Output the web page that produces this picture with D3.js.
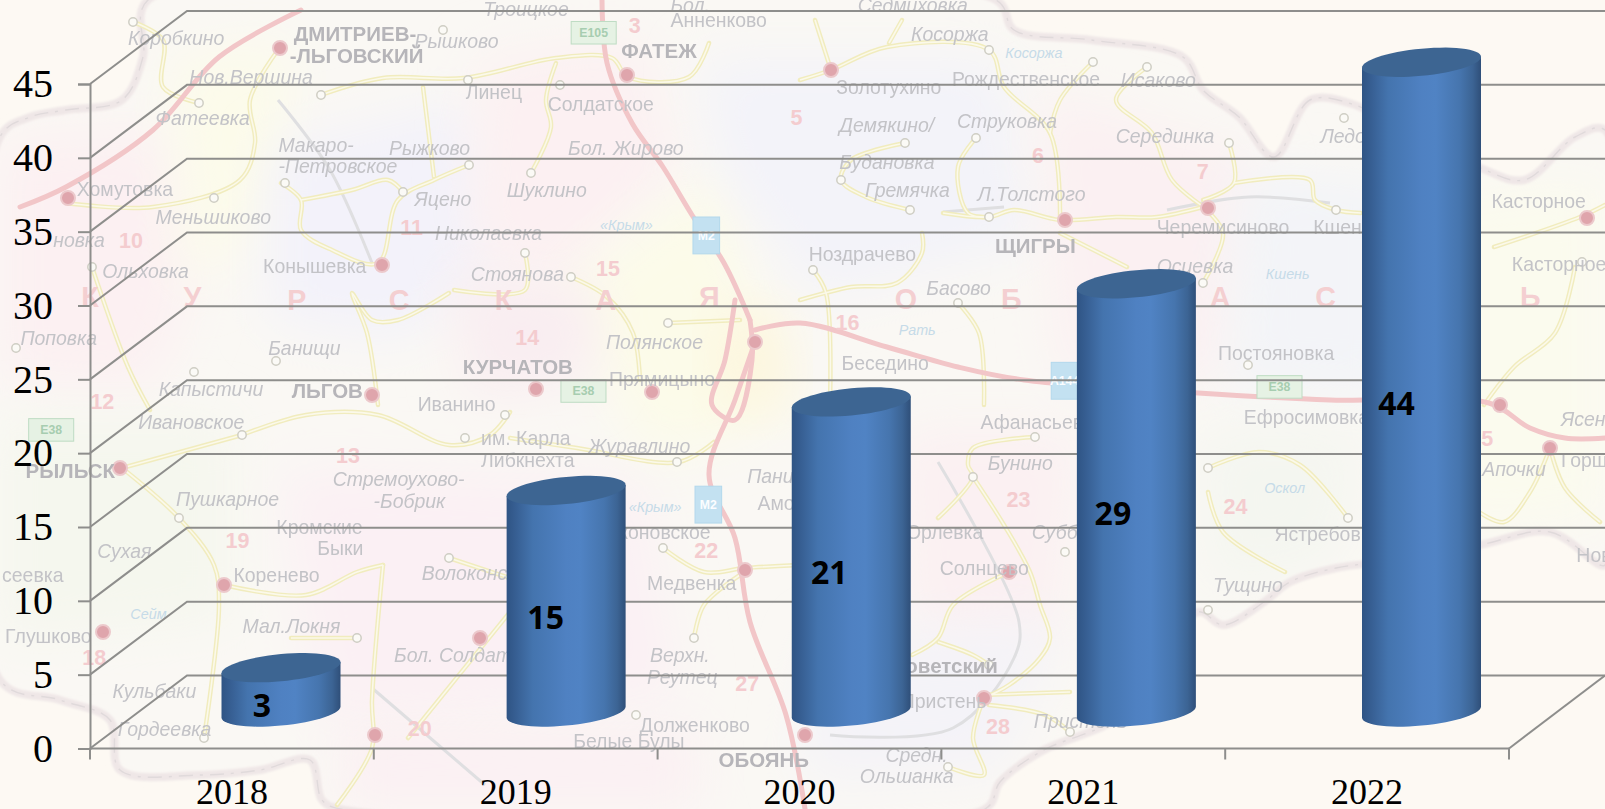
<!DOCTYPE html>
<html><head><meta charset="utf-8">
<script src="https://cdn.jsdelivr.net/npm/d3@7/dist/d3.min.js"></script>
<style>html,body{margin:0;padding:0;background:#fdf9f3;overflow:hidden}svg{display:block}</style>
</head><body><svg id="c" width="1605" height="809"></svg>
<script>
// ---------- chart data ----------
const categories = ["2018","2019","2020","2021","2022"];
const values = [3,15,21,29,44];
const yTicks = [0,5,10,15,20,25,30,35,40,45];

// ---------- decorative background map (pale road atlas of Kursk oblast) ----------
const regionOutline = [[148,0],[143,57],[122,100],[66,110],[30,117],[0,137],[0,680],[60,700],[110,720],[120,770],[200,775],[260,770],[310,760],[322,800],[340,809],[985,809],[1000,782],[1040,752],[1127,712],[1198,612],[1223,625],[1264,602],[1290,582],[1336,568],[1400,560],[1480,545],[1550,532],[1600,565],[1605,565],[1605,130],[1575,137],[1524,180],[1478,167],[1400,130],[1355,105],[1310,100],[1274,157],[1239,117],[1203,90],[1183,57],[1091,40],[1014,30],[996,0]];
const tintPatches = [
 ["#fcf0f2",[[0,140],[170,130],[190,300],[150,390],[0,380]]],
 ["#fcfbea",[[170,60],[290,40],[280,200],[190,290]]],
 ["#f3f2fa",[[270,150],[470,100],[500,270],[400,340],[270,320]]],
 ["#fcf0f2",[[480,60],[640,40],[680,170],[560,290],[470,250]]],
 ["#fcfbe9",[[560,290],[720,170],[780,420],[650,460]]],
 ["#f9edf1",[[450,270],[600,290],[590,380],[470,400]]],
 ["#f3f3f9",[[700,60],[1000,60],[1040,240],[820,300],[720,170]]],
 ["#fdf6dd",[[715,310],[780,310],[790,410],[720,410]]],
 ["#fbf0f2",[[1040,90],[1260,160],[1220,380],[1060,380]]],
 ["#f3f4f8",[[1240,170],[1400,180],[1400,400],[1230,390]]],
 ["#f5f7ee",[[0,420],[230,420],[230,620],[0,640]]],
 ["#fbf0f4",[[280,470],[640,480],[680,700],[320,720]]],
 ["#fbf0f2",[[900,430],[1080,430],[1060,640],[910,640]]],
 ["#f4f6f0",[[1200,430],[1360,430],[1340,560],[1210,590]]],
 ["#f4f3f8",[[820,640],[1060,620],[1000,770],[800,780]]],
 ["#fbfbee",[[1420,200],[1605,180],[1605,520],[1440,530]]],
 ["#fbf0f3",[[340,720],[700,730],[700,809],[340,809]]]
];
const yellowRoads = [
 [[321,95],[383,78],[464,78],[556,58],[612,58],[628,77],[689,77],[709,43]],
 [[556,63],[546,100],[551,127],[531,173]],
 [[133,22],[163,40],[163,87],[199,103]],
 [[281,183],[301,200],[301,230],[332,250],[378,263],[398,200],[434,180],[469,165]],
 [[301,200],[352,190],[388,180],[403,192]],
 [[423,87],[434,177]],
 [[66,203],[153,207],[240,180],[255,143],[250,100],[278,50]],
 [[92,267],[128,367],[150,410]],
 [[449,293],[398,320],[372,320],[352,293],[367,333],[378,405]],
 [[454,290],[525,290],[525,253]],
 [[571,277],[607,297],[633,333],[640,380]],
 [[668,323],[740,320]],
 [[122,468],[179,518],[214,565],[219,605],[204,738]],
 [[224,585],[306,595],[357,572],[383,565]],
 [[242,435],[122,468]],
 [[242,435],[306,415],[378,415],[449,445],[490,435],[510,412]],
 [[510,438],[577,448],[679,462],[714,442]],
 [[449,558],[510,578]],
 [[663,548],[704,572],[745,568],[800,565]],
 [[694,638],[704,605],[740,575]],
 [[291,638],[357,638]],
 [[408,738],[510,612]],
 [[337,805],[372,748],[372,700],[383,565]],
 [[800,80],[831,70],[887,47],[989,50],[1004,87],[1050,133],[1060,217]],
 [[831,70],[815,20]],
 [[889,43],[902,20]],
 [[1093,62],[1060,100],[1050,133]],
 [[1147,67],[1116,100],[1152,133],[1172,180],[1208,210]],
 [[1229,143],[1234,183],[1203,200]],
 [[1234,183],[1310,180],[1315,200],[1336,210],[1361,213]],
 [[905,143],[851,160],[841,180],[866,197],[910,210]],
 [[976,138],[958,167],[968,213],[989,217]],
 [[943,213],[989,217],[1014,210],[1060,220],[1116,217],[1157,217],[1203,207]],
 [[1060,233],[1127,267]],
 [[1203,283],[1223,233],[1203,207]],
 [[813,270],[826,293],[830,405]],
 [[800,300],[851,287],[897,283],[922,253],[922,233]],
 [[958,303],[979,333],[984,405]],
 [[1035,437],[973,448],[968,465],[973,477],[938,518]],
 [[973,477],[1004,525],[1030,572],[1040,605],[1050,638],[1040,658],[1009,685],[984,698]],
 [[1009,572],[953,605],[938,638],[912,655]],
 [[938,642],[973,655],[989,665]],
 [[981,695],[1070,692]],
 [[989,705],[1045,715],[1070,732]],
 [[984,698],[973,738],[984,775],[948,767]],
 [[1208,468],[1259,452],[1300,465],[1348,518]],
 [[1208,492],[1223,532],[1285,572]],
 [[1550,448],[1565,488],[1600,522]],
 [[1550,448],[1530,492],[1504,522],[1479,512]],
 [[1494,247],[1580,217],[1605,205]],
 [[1575,267],[1555,333],[1514,367],[1484,405]]
];
const highways = [
 [[20,207],[66,187],[153,130],[219,57],[301,10]],
 [[602,0],[607,63],[632,123],[663,167],[692,215],[724,263],[750,320]],
 [[735,300],[725,360],[712,405],[735,420],[752,360],[750,320]],
 [[755,342],[735,400],[709,475],[735,538],[750,622],[786,715],[805,809]],
 [[755,330],[800,323],[887,347],[958,367],[1024,380],[1198,393],[1330,400],[1489,403],[1530,428],[1565,438],[1605,438]]
];
const greyLines = [
 [[943,212],[1004,207]],[[1167,210],[1249,197],[1330,203]],
 [[938,462],[1019,622],[1014,658],[953,728],[830,735]],
 [[372,688],[485,785]],[[278,100],[330,170],[372,263]]
];
const towns = [[133,22],[199,103],[443,30],[321,95],[468,80],[560,85],[285,183],[403,192],[469,165],[531,173],[214,198],[525,253],[571,277],[92,267],[16,348],[194,372],[276,361],[668,323],[242,435],[465,438],[505,415],[677,462],[179,518],[449,558],[663,548],[694,638],[357,638],[204,738],[905,143],[976,138],[989,50],[841,180],[910,210],[989,217],[813,270],[958,303],[1093,62],[1147,67],[1229,143],[1344,118],[1336,210],[1203,283],[1248,365],[1035,437],[973,477],[1065,552],[1208,468],[1348,518],[1208,610],[1070,732],[989,665],[948,767],[636,715],[1582,262]];
const cities = [[280,48],[68,198],[627,75],[382,265],[831,70],[1065,220],[1208,208],[1587,218],[372,395],[536,389],[652,392],[120,468],[224,585],[103,632],[480,638],[375,735],[755,342],[745,570],[1009,572],[805,735],[984,698],[1550,448],[1500,405]];
// text, left, centre-y (in 1568-wide reference pixels), style: i italic, b bold, r regular
const mapLabels = [
 ["Коробкино",125,37,"i"],["ДМИТРИЕВ-",287,33,"b"],["-ЛЬГОВСКИЙ",283,55,"b"],["Рышково",405,40,"i"],["Троицкое",472,9,"i"],["ФАТЕЖ",607,50,"b"],["Бол.",655,5,"i"],["Анненково",655,20,"r"],["Седмиховка",838,5,"i"],["Косоржа",890,33,"i"],["Золотухино",817,85,"r"],["Рождественское",930,77,"r"],["Исаково",1095,78,"i"],["Нов.Вершина",185,75,"i"],["Фатеевка",152,115,"i"],["Линец",455,90,"r"],["Солдатское",535,102,"r"],["Макаро-",272,142,"i"],["-Петровское",272,162,"i"],["Рыжково",380,145,"i"],["Бол. Жирово",555,145,"i"],["Демякино/",820,122,"i"],["Струковка",935,118,"i"],["Серединка",1090,133,"i"],["Ледов",1290,133,"i"],["Хомутовка",75,185,"r"],["Меньшиково",152,212,"i"],["Яцено",405,195,"i"],["Шуклино",495,186,"i"],["Будановка",820,158,"i"],["Гремячка",845,186,"i"],["Л.Толстого",955,190,"i"],["Касторное",1457,197,"r"],["Черемисиново",1130,222,"r"],["Кшень",1283,222,"r"],["Николаевка",425,228,"i"],["новка",52,235,"i"],["Конышевка",257,260,"r"],["Стояновa",460,268,"i"],["Ольховка",100,265,"i"],["Ноздрачево",790,248,"r"],["ЩИГРЫ",972,240,"b"],["Осиевка",1130,260,"i"],["Касторное",1477,258,"r"],["Басово",905,282,"i"],["Поповка",20,330,"i"],["Банищи",262,340,"i"],["Полянское",592,334,"i"],["Беседино",822,355,"r"],["Постояновка",1190,345,"r"],["Капыстичи",155,380,"i"],["ЛЬГОВ",285,382,"b"],["КУРЧАТОВ",452,358,"b"],["Прямицыно",595,370,"r"],["Иванино",408,395,"r"],["Ивановское",135,412,"i"],["им. Карла",470,428,"r"],["Либкнехта",470,450,"r"],["Журавлино",575,436,"i"],["Афанасьево",958,412,"r"],["Ефросимовка",1215,408,"r"],["Бунино",965,453,"i"],["РЫЛЬСК",25,460,"b"],["Пушкарное",172,488,"i"],["Стремоухово-",325,468,"i"],["-Бобрик",365,490,"i"],["Паниково",730,465,"i"],["Амосовка",740,492,"r"],["Апочки",1448,458,"i"],["Горшечное",1525,450,"r"],["Кромские",270,515,"r"],["Быки",310,536,"r"],["Дьяконовское",572,520,"r"],["Сухая",95,538,"i"],["Коренево",228,562,"r"],["Волоконск",412,560,"i"],["Медвенка",632,570,"r"],["Субботино",1008,520,"i"],["Орлевка",885,520,"r"],["Солнцево",918,555,"r"],["Ястребовка",1245,522,"r"],["Тущино",1185,572,"i"],["сеевка",2,562,"r"],["Глушково",5,622,"r"],["Мал.Локня",237,612,"i"],["Бол. Солдатское",385,640,"i"],["Верхн.",635,640,"i"],["Реутец",632,662,"i"],["Кульбаки",110,675,"i"],["Гордеевка",115,712,"i"],["Долженково",625,708,"r"],["Советский",870,650,"b"],["Пристень",880,685,"r"],["Пристень",1010,705,"i"],["ОБОЯНЬ",702,742,"b"],["Средн.",865,738,"i"],["Ольшанка",840,758,"i"],["Новый",1540,542,"r"],["Ясенки",1525,410,"i"],["Белые Булы",560,724,"r"]
];
const regionNumbers = [["3",620,25],["5",778,115],["6",1014,152],["7",1175,168],["11",402,222],["10",128,235],["15",594,262],["14",515,330],["16",828,315],["12",100,392],["13",340,445],["19",232,528],["23",995,488],["24",1207,495],["22",690,538],["25",1447,428],["18",92,642],["27",730,668],["20",410,712],["28",975,710]];
const regionLetters = [["К",88,290],["У",188,290],["Р",290,293],["С",390,293],["К",492,293],["А",592,293],["Я",693,290],["О",885,292],["Б",988,292],["А",1192,290],["С",1295,290],["Ь",1495,290]];
const routeSigns = [["E105",580,32,"g"],["E38",570,382,"g"],["E38",1250,378,"g"],["E38",50,420,"g"],["M2",690,230,"b"],["M2",692,493,"b"],["A144",1040,372,"b"]];
const blueNotes = [["«Крым»",612,220],["«Крым»",640,495],["Сейм",145,600],["Оскол",1255,477],["Кшень",1258,268],["Рать",896,322],["Косоржа",1010,52]];

// ---------- layout ----------
const W = 1605, H = 809;
const frontLeft = 90, frontRight = 1511, yZero = 748.5, yMax = 84;
const depthX = 97, depthY = 73;
const barRadius = 59.5, ellipseB = 13.6, ellipseShear = 5.5;
const y = d3.scaleLinear().domain([0,45]).range([yZero,yMax]);
const xBand = d3.scaleBand().domain(categories).range([frontLeft,frontRight-2]);
const xBar = d3.scalePoint().domain(categories).range([281,1421.5]);

const svg = d3.select("#c");
const defs = svg.append("defs");
const blur = (id,s)=>defs.append("filter").attr("id",id).attr("x","-30%").attr("y","-30%").attr("width","160%").attr("height","160%").append("feGaussianBlur").attr("stdDeviation",s);
blur("b30",26); blur("b4",4); blur("b1",1.2); blur("t",0.35);
defs.append("clipPath").attr("id","regionClip").append("path").attr("d",d3.line()(regionOutline)+"Z");
const cyl = defs.append("linearGradient").attr("id","cyl").attr("x1",0).attr("x2",1).attr("y1",0).attr("y2",0);
[[0,"#2f5484"],[0.08,"#375f93"],[0.22,"#4474ae"],[0.5,"#4f81c2"],[0.62,"#5083c4"],[0.82,"#4675ae"],[0.93,"#3c6494"],[1,"#2f4f79"]]
 .forEach(([o,c])=>cyl.append("stop").attr("offset",o).attr("stop-color",c));

// background
svg.append("rect").attr("width",W).attr("height",H).attr("fill","#fdf9f3");
const map = svg.append("g");
map.append("path").attr("d",d3.line().curve(d3.curveCatmullRomClosed)(regionOutline)).attr("fill","#faf8f4").attr("filter","url(#b4)");
const tint = map.append("g").attr("clip-path","url(#regionClip)");
tint.selectAll("path").data(tintPatches).join("path")
 .attr("d",d=>d3.line()(d[1])+"Z").attr("fill",d=>d[0]).attr("filter","url(#b30)");
const roadLine = d3.line().curve(d3.curveCatmullRom);
map.append("path").attr("d",d3.line().curve(d3.curveCatmullRomClosed)(regionOutline)).attr("fill","none").attr("stroke","#efe7e7").attr("stroke-width",8).attr("filter","url(#b1)");
map.append("path").attr("d",d3.line().curve(d3.curveCatmullRomClosed)(regionOutline)).attr("fill","none").attr("stroke","#e0dadb").attr("stroke-width",1.4).attr("stroke-dasharray","14 7 3 7");
map.append("g").selectAll("path").data(greyLines).join("path").attr("d",roadLine).attr("fill","none").attr("stroke","#dfdfe1").attr("stroke-width",3);
map.append("g").selectAll("path").data(yellowRoads).join("path").attr("d",roadLine).attr("fill","none").attr("stroke","#f1ecbe").attr("stroke-width",4.5).attr("stroke-linecap","round");
map.append("g").selectAll("path").data(yellowRoads).join("path").attr("d",roadLine).attr("fill","none").attr("stroke","#fbf9ea").attr("stroke-width",1.6);
map.append("g").selectAll("path").data(highways).join("path").attr("d",roadLine).attr("fill","none").attr("stroke","#f2c6c8").attr("stroke-width",5).attr("stroke-linecap","round");
map.append("g").selectAll("circle").data(towns).join("circle").attr("cx",d=>d[0]).attr("cy",d=>d[1]).attr("r",4.2).attr("fill","#fbfaf6").attr("stroke","#cfcec4").attr("stroke-width",1.5);
map.append("g").selectAll("circle").data(cities).join("circle").attr("cx",d=>d[0]).attr("cy",d=>d[1]).attr("r",7).attr("fill","#dfa5ac").attr("stroke","#ecc9cc").attr("stroke-width",2);

const txt = map.append("g").attr("transform","scale(1.0236)").attr("font-family","'Liberation Sans',sans-serif");
txt.selectAll("text.m").data(mapLabels).join("text").attr("class","m")
 .attr("x",d=>d[1]).attr("y",d=>d[2]).attr("dy","0.35em")
 .attr("font-size",d=>d[3]==="b"?20:19)
 .attr("font-style",d=>d[3]==="i"?"italic":"normal")
 .attr("font-weight",d=>d[3]==="b"?"bold":"normal")
 .attr("fill",d=>d[3]==="b"?"#b6b5b9":"#c3c3c7").attr("filter","url(#t)").text(d=>d[0]);
txt.selectAll("text.n").data(regionNumbers).join("text").attr("class","n")
 .attr("x",d=>d[1]).attr("y",d=>d[2]).attr("dy","0.35em").attr("text-anchor","middle")
 .attr("font-size",21).attr("font-weight","bold").attr("fill","#f4cccf").text(d=>d[0]);
txt.selectAll("text.l").data(regionLetters).join("text").attr("class","l")
 .attr("x",d=>d[1]).attr("y",d=>d[2]).attr("dy","0.35em").attr("text-anchor","middle")
 .attr("font-size",28).attr("font-weight","bold").attr("fill","#f4cfd1").text(d=>d[0]);
txt.selectAll("text.q").data(blueNotes).join("text").attr("class","q")
 .attr("x",d=>d[1]).attr("y",d=>d[2]).attr("dy","0.35em").attr("text-anchor","middle")
 .attr("font-size",14).attr("font-style","italic").attr("fill","#c6dbe8").text(d=>d[0]);
const sign = txt.selectAll("g.s").data(routeSigns).join("g").attr("class","s").attr("transform",d=>`translate(${d[1]},${d[2]})`);
sign.append("rect").attr("x",d=>d[3]==="g"?-22:-13).attr("y",d=>d[3]==="g"?-11:-18).attr("width",d=>d[3]==="g"?44:26).attr("height",d=>d[3]==="g"?22:36)
 .attr("fill",d=>d[3]==="g"?"#e6f2e4":"#c3e1f1").attr("stroke",d=>d[3]==="g"?"#bfdcc4":"#b3d8ec");
sign.append("text").attr("text-anchor","middle").attr("dy","0.35em").attr("font-size",12).attr("font-weight","bold")
 .attr("fill",d=>d[3]==="g"?"#a7cdb0":"#fbfdff").text(d=>d[0]);

// ---------- chart frame ----------
const gridColor = "#8e8e8c";
const grid = svg.append("g").attr("fill","none").attr("stroke",gridColor).attr("stroke-width",2);
grid.selectAll("path.w").data(yTicks).join("path").attr("class","w")
 .attr("d",v=>d3.line()([[frontLeft,y(v)],[frontLeft+depthX,y(v)-depthY],[W+10,y(v)-depthY]]));
grid.append("path").attr("d",d3.line()([[frontRight-2,yZero],[W,yZero-depthY]]));

const yAxis = d3.axisLeft(y).tickValues(yTicks).tickSize(12).tickPadding(25).tickFormat(d3.format("d"));
const yG = svg.append("g").attr("transform",`translate(${frontLeft},0)`).call(yAxis);
const xAxis = d3.axisBottom(xBand).tickSize(0).tickPadding(30);
const xG = svg.append("g").attr("transform",`translate(0,${yZero})`).call(xAxis);
const tickEdges = d3.range(categories.length+1).map(i=>frontLeft+i*xBand.bandwidth());
xG.selectAll("line.edge").data(tickEdges).join("line").attr("class","edge")
 .attr("x1",d=>d).attr("x2",d=>d).attr("y1",0).attr("y2",11).attr("stroke",gridColor).attr("stroke-width",2);
[yG,xG].forEach(g=>{
 g.selectAll(".domain").attr("stroke",gridColor).attr("stroke-width",2);
 g.selectAll(".tick line").attr("stroke",gridColor).attr("stroke-width",2);
 g.selectAll("text").attr("font-family","'Liberation Serif',serif").attr("fill","#000");
});
yG.selectAll("text").attr("font-size",40);
xG.select(".domain").attr("d",`M${frontLeft},0H${frontRight-2}`);
xG.selectAll(".tick text").attr("dy","0.71em").attr("font-size",36);

// ---------- cylinders ----------
const thetas = d3.range(0,361,6).map(d=>d*Math.PI/180);
const ePoint = (cx,cy,t)=>[cx+barRadius*Math.cos(t), cy+ellipseB*Math.sin(t)-ellipseShear*Math.cos(t)];
const lower = thetas.filter(t=>t<=Math.PI+1e-9);
const bars = svg.append("g").selectAll("g").data(categories.map((c,i)=>({c,v:values[i],i}))).join("g");
bars.append("path").attr("fill","url(#cyl)").attr("d",d=>{
 const cx=xBar(d.c), top=y(d.v)-depthY/2, base=yZero-depthY/2;
 const arc = lower.map(t=>ePoint(cx,base,t));
 return d3.line()([ePoint(cx,top,0),...arc,ePoint(cx,top,Math.PI)])+"Z";
});
bars.append("path").attr("fill","#3d6592").attr("d",d=>{
 const cx=xBar(d.c), top=y(d.v)-depthY/2;
 return d3.line()(thetas.map(t=>ePoint(cx,top,t)))+"Z";
});
bars.append("text").attr("x",d=>xBar(d.c)-19-1.5*d.i).attr("y",d=>(y(d.v)+yZero)/2-depthY/2+16)
 .attr("dy","0.36em").attr("text-anchor","middle").attr("font-family","'Open Sans',sans-serif")
 .attr("font-weight","bold").attr("font-size",32).attr("fill","#000").text(d=>d.v);
</script></body></html>
